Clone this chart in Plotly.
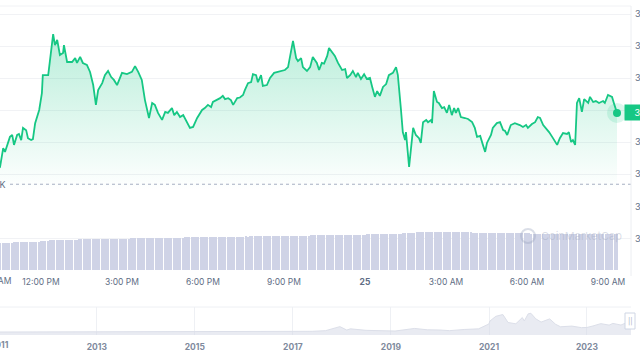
import plotly.graph_objects as go
import pandas as pd

# ---------------- data ----------------
open_price = 37368  # 24h-ago reference price (dotted line)

pre_times = ["09:20", "09:35", "09:50", "10:05", "10:18"]
pre_prices = [37368, 37385, 37402, 37445, 37410]

times_24 = ["10:29","10:36","10:40","10:44","10:51","10:56","11:00","11:07","11:11","11:16",
            "11:20","11:27","11:31","11:38","11:42","11:47","11:56","12:02","12:04","12:16",
            "12:27","12:31","12:36","12:42","12:49","12:51","12:58","13:09","13:16","13:20",
            "13:27","13:33","13:42","13:49","13:56","14:02","14:07","14:16","14:22","14:29",
            "14:36","14:42","14:49","15:00","15:11","15:22","15:29","15:36","15:44","15:51",
            "16:00","16:07","16:13","16:20","16:29","16:36","16:42","16:51","16:56","17:02",
            "17:09","17:16","17:24","17:31","17:38","17:47","17:58","18:04","18:11","18:18",
            "18:22","18:31","18:38","18:44","18:49","18:56","19:02","19:07","19:16","19:22",
            "19:29","19:33","19:40","19:47","19:51","19:58","20:02","20:09","20:13","20:22",
            "20:29","20:38","20:47","20:56","21:02","21:09","21:13","21:20","21:27","21:31",
            "21:38","21:42","21:51","21:58","22:04","22:13","22:18","22:24","22:29","22:36",
            "22:40","22:47","22:53","23:00","23:09","23:16","23:20","23:27","23:33","23:40",
            "23:44","23:51","23:58"]
prices_24 = [37422,37481,37469,37484,37516,37522,37491,37522,37525,37506,
             37544,37537,37512,37506,37509,37559,37600,37653,37709,37709,
             37837,37803,37819,37772,37778,37803,37750,37750,37762,37747,
             37766,37747,37741,37719,37678,37616,37662,37684,37709,37722,
             37703,37694,37678,37716,37712,37719,37737,37719,37694,37631,
             37575,37622,37616,37591,37569,37594,37591,37606,37584,37594,
             37578,37584,37562,37544,37547,37575,37600,37606,37616,37609,
             37625,37631,37637,37644,37634,37637,37631,37616,37637,37639,
             37647,37662,37684,37687,37712,37709,37687,37709,37675,37678,
             37700,37716,37719,37722,37725,37734,37762,37816,37762,37753,
             37762,37734,37722,37734,37766,37747,37725,37747,37745,37769,
             37794,37781,37769,37747,37725,37728,37700,37709,37722,37703,
             37716,37697,37712]

times_25 = ["00:04","00:11","00:16","00:22","00:27","00:33","00:40","00:47","00:53","01:02",
            "01:09","01:13","01:20","01:24","01:29","01:31","01:38","01:42","01:47","01:53",
            "02:00","02:04","02:09","02:16","02:20","02:27","02:29","02:33","02:40","02:44",
            "02:51","02:56","03:02","03:07","03:13","03:18","03:22","03:27","03:33","03:42",
            "03:49","03:58","04:04","04:09","04:16","04:22","04:27","04:31","04:40","04:44",
            "04:53","05:00","05:07","05:11","05:16","05:24","05:33","05:44","05:51","05:58",
            "06:02","06:11","06:18","06:24","06:29","06:36","06:44","06:49","06:56","07:02",
            "07:07","07:13","07:20","07:29","07:33","07:38","07:42","07:47","07:51","07:56",
            "08:02","08:07","08:16","08:20","08:27","08:33","08:40","08:49","08:53","09:00",
            "09:09","09:13","09:20"]
prices_25 = [37697,37700,37672,37641,37659,37644,37672,37681,37709,37716,
             37734,37709,37600,37531,37506,37531,37422,37469,37544,37522,
             37512,37497,37562,37569,37562,37569,37559,37659,37625,37622,
             37606,37609,37591,37616,37584,37606,37591,37606,37578,37575,
             37572,37562,37544,37516,37519,37491,37469,37497,37522,37544,
             37559,37562,37537,37535,37522,37553,37559,37553,37547,37553,
             37544,37556,37562,37578,37575,37553,37541,37531,37516,37500,
             37491,37512,37528,37525,37531,37500,37506,37491,37622,37637,
             37594,37634,37622,37641,37625,37628,37622,37628,37622,37647,
             37641,37622,37591]

# rolling 24h volume (billions USD), one bar per 5 minutes from 09:20 Nov 24
volume = [
    29.0,29.0,29.0,29.0,29.0,29.0,29.0,29.0,29.0,29.0,29.0,29.0,
    29.1,29.1,29.15,29.15,29.1,29.15,29.15,29.2,29.28,29.28,29.25,29.28,
    29.28,29.3,29.28,29.3,29.28,29.3,29.3,29.32,29.45,29.5,29.5,29.55,
    29.7,29.7,29.72,29.7,29.7,29.72,29.75,29.72,29.75,29.78,29.8,29.8,
    29.8,29.82,29.9,29.9,29.9,29.88,29.9,29.92,29.9,29.9,29.92,29.9,
    29.9,29.92,29.9,29.95,29.92,29.95,29.95,29.98,29.95,30.0,29.98,30.0,
    30.02,30.04,30.04,30.05,30.04,30.04,30.06,30.04,30.05,30.04,30.06,30.05,
    30.05,30.06,30.05,30.08,30.08,30.1,30.1,30.1,30.12,30.1,30.12,30.15,
    30.2,30.22,30.23,30.23,30.22,30.24,30.23,30.25,30.24,30.25,30.26,30.25,
    30.26,30.28,30.3,30.3,30.3,30.32,30.3,30.33,30.32,30.33,30.35,30.35,
    30.36,30.38,30.38,30.4,30.38,30.4,30.4,30.42,30.42,30.44,30.45,30.45,
    30.46,30.48,30.48,30.48,30.5,30.48,30.5,30.5,30.52,30.52,30.52,30.53,
    30.53,30.54,30.53,30.55,30.55,30.56,30.55,30.57,30.58,30.58,30.6,30.6,
    30.62,30.62,30.63,30.64,30.65,30.65,30.66,30.68,30.72,30.72,30.72,30.73,
    30.72,30.73,30.72,30.74,30.73,30.74,30.75,30.74,30.76,30.78,30.8,30.8,
    30.8,30.82,30.82,30.84,30.86,30.86,30.86,30.88,30.88,30.9,30.9,30.92,
    30.95,30.98,31.0,31.05,31.08,31.1,31.12,31.15,31.25,31.3,31.3,31.32,
    31.3,31.32,31.3,31.33,31.32,31.3,31.32,31.3,31.32,31.3,31.3,31.32,
    31.3,31.32,31.3,31.3,31.32,31.3,31.28,31.15,31.1,31.12,31.1,31.1,
    31.1,31.12,31.1,31.1,31.0,31.0,30.98,31.0,30.99,31.0,30.98,31.0,
    30.99,31.0,30.98,30.99,31.0,30.98,30.99,30.97,30.98,30.96,30.95,30.95,
    30.88,30.86,30.86,30.87,30.86,30.85,30.86,30.86,30.85,30.86,30.84,30.86,
    30.86,30.85,30.86,30.86,30.84,30.86,30.85,30.86,30.86,30.85,30.86,30.86,
    30.86,30.85,30.86,30.86,30.86,30.85,30.86,30.86,30.84,30.85,30.86,30.86,
    30.86]
volume_start = "2023-11-24 09:20"

# navigator: long-term price history
nav_dates = ["2011-01-10","2011-06-08","2011-11-20","2012-06-01","2013-01-01","2013-04-10",
             "2013-07-01","2013-11-30","2014-03-01","2014-07-01","2015-01-15","2015-07-01",
             "2016-01-01","2016-07-01","2017-01-01","2017-05-25","2017-09-01","2017-12-17",
             "2018-02-06","2018-03-05","2018-06-30","2018-12-15","2019-02-01","2019-06-26",
             "2019-09-30","2020-01-01","2020-03-13","2020-06-30","2020-10-15","2020-12-31",
             "2021-01-08","2021-02-21","2021-04-14","2021-05-23","2021-07-20","2021-09-06",
             "2021-09-21","2021-10-20","2021-11-09","2021-12-15","2022-01-24","2022-03-29",
             "2022-05-12","2022-06-18","2022-09-10","2022-11-21","2023-01-01","2023-02-15",
             "2023-04-14","2023-06-15","2023-07-13","2023-09-11","2023-10-25","2023-11-25"]
nav_prices = [0.3,30,2.5,6,13,200,90,1150,600,630,200,260,430,670,1000,2500,4800,19500,
              7000,11500,6000,3200,3500,12900,8000,7200,4900,9100,11500,29000,40000,57000,
              63500,34500,29800,52500,40000,66000,68000,48000,36000,47500,28000,19000,21500,
              15800,16500,22000,30400,25000,31300,25200,34500,37700]

time_ticks = ["2023-11-24 12:00","2023-11-24 15:00","2023-11-24 18:00","2023-11-24 21:00",
              "2023-11-25 00:00","2023-11-25 03:00","2023-11-25 06:00","2023-11-25 09:00"]
time_tick_text = ["12:00 PM","3:00 PM","6:00 PM","9:00 PM","<b>25</b>","3:00 AM","6:00 AM","9:00 AM"]
price_ticks = [37400,37500,37600,37700,37800,37900]
volume_ticks = [30,36]
year_ticks = ["2013-01-01","2015-01-01","2017-01-01","2019-01-01","2021-01-01","2023-01-01"]

# ---------------- build ----------------
W, H = 640, 360
PLOT_W = 631
GREEN = "#16c784"
GRAY = "#616e85"
GRID = "#f1f2f5"
FONT = "Inter"
FS = 8.5

def py(px):  # pixel from top -> paper y
    return 1 - px / H

def pxx(px):
    return px / PLOT_W

t_all = ["2023-11-24 " + t for t in pre_times + times_24] + ["2023-11-25 " + t for t in times_25]
p_all = pre_prices + prices_24 + prices_25
vol_x = pd.date_range(volume_start, periods=len(volume), freq="5min")

fig = go.Figure()

fig.add_trace(go.Scatter(
    x=t_all, y=p_all, mode="lines", line=dict(color=GREEN, width=1.8),
    fill="tozeroy",
    fillgradient=dict(type="vertical", start=37350, stop=37837,
                      colorscale=[[0, "rgba(22,199,132,0.0)"], [1, "rgba(22,199,132,0.30)"]]),
    xaxis="x", yaxis="y", hoverinfo="skip", showlegend=False))

fig.add_trace(go.Scatter(
    x=[t_all[-1]], y=[p_all[-1]], mode="markers",
    marker=dict(size=20, color="rgba(22,199,132,0.15)"),
    xaxis="x", yaxis="y", showlegend=False, hoverinfo="skip"))
fig.add_trace(go.Scatter(
    x=[t_all[-1]], y=[p_all[-1]], mode="markers",
    marker=dict(size=8, color=GREEN),
    xaxis="x", yaxis="y", showlegend=False, hoverinfo="skip"))

fig.add_trace(go.Bar(
    x=vol_x, y=volume, marker=dict(color="#cfd3e6", line=dict(width=0)),
    width=190000, xaxis="x2", yaxis="y2", showlegend=False, hoverinfo="skip"))

nav_base = -10900
fig.add_trace(go.Scatter(
    x=[nav_dates[0], nav_dates[-1]], y=[nav_base, nav_base], mode="lines",
    line=dict(width=0), xaxis="x3", yaxis="y3", showlegend=False, hoverinfo="skip"))
fig.add_trace(go.Scatter(
    x=nav_dates, y=nav_prices, mode="lines", fill="tonexty",
    fillcolor="rgba(215,219,232,0.55)", line=dict(color="#dcdfe9", width=1),
    xaxis="x3", yaxis="y3", showlegend=False, hoverinfo="skip"))

x_range = ["2023-11-24 10:28:53", "2023-11-25 09:51:07"]
tick_font = dict(family=FONT, size=FS, color=GRAY)
ytick_font = dict(family=FONT, size=9, color=GRAY)

fig.update_layout(
    width=W, height=H, template="none",
    margin=dict(l=0, r=W - PLOT_W, t=0, b=0),
    paper_bgcolor="white", plot_bgcolor="white",
    bargap=0, showlegend=False,
    xaxis=dict(domain=[0, 1], range=x_range, type="date", anchor="y",
               showgrid=False, showticklabels=False, ticks="", zeroline=False,
               showline=False, automargin=False),
    yaxis=dict(domain=[py(190), py(6)], range=[37350, 37925], side="right", anchor="x",
               tickvals=price_ticks, tickformat=",.0f", showgrid=True, gridcolor=GRID,
               gridwidth=1, zeroline=False, ticks="", showline=False,
               tickfont=ytick_font, automargin=False, ticklabelstandoff=3),
    xaxis2=dict(domain=[0, 1], range=x_range, type="date", anchor="y2", matches="x",
                tickvals=time_ticks, ticktext=time_tick_text, showgrid=False,
                ticks="", zeroline=False, showline=False, tickfont=tick_font,
                automargin=False, ticklabelstandoff=5),
    yaxis2=dict(domain=[py(270), py(207)], range=[24, 36], side="right", anchor="x2",
                tickvals=volume_ticks, ticksuffix="B", showgrid=True, gridcolor=GRID,
                zeroline=False, ticks="", showline=False, tickfont=ytick_font,
                automargin=False, ticklabelstandoff=3),
    xaxis3=dict(domain=[0, 1], range=["2011-01-10", "2023-11-25"], type="date", anchor="y3",
                tickvals=year_ticks, tickformat="%Y", showgrid=True, gridcolor="#eef0f4",
                ticks="", zeroline=False, showline=False,
                tickfont=dict(family=FONT, size=FS, color="#808a9d", weight="bold"),
                automargin=False, ticklabelstandoff=5),
    yaxis3=dict(domain=[py(335), py(307)], range=[nav_base, 90800], showgrid=False,
                showticklabels=False, zeroline=False, ticks="", automargin=False,
                fixedrange=True),
)

shapes = [
    # dotted opening price line
    dict(type="line", xref="paper", yref="y", x0=pxx(10), x1=1, y0=open_price, y1=open_price,
         line=dict(color="#a6b0c3", width=1, dash="dot")),
    # pane top border
    dict(type="line", xref="paper", yref="paper", x0=0, x1=1, y0=py(6), y1=py(6),
         line=dict(color=GRID, width=1)),
    # right border
    dict(type="line", xref="paper", yref="paper", x0=1, x1=1, y0=py(276), y1=py(6),
         line=dict(color="#eceef2", width=1)),
    # navigator top border
    dict(type="line", xref="paper", yref="paper", x0=0, x1=1, y0=py(307), y1=py(307),
         line=dict(color="#eef0f4", width=1)),
    # navigator handle
    dict(type="rect", xref="paper", yref="paper", x0=pxx(625), x1=pxx(635), y0=py(329), y1=py(313),
         fillcolor="white", line=dict(color="#cfd6e4", width=1)),
    # watermark logo circle
    dict(type="circle", xref="paper", yref="paper", x0=pxx(521), x1=pxx(535), y0=py(243), y1=py(229),
         line=dict(color="rgba(150,160,185,0.35)", width=2)),
]
fig.update_layout(shapes=shapes)

annotations = [
    dict(text="37.37K", xref="paper", yref="y", x=pxx(8), y=open_price, xanchor="right",
         yanchor="middle", showarrow=False, font=dict(family=FONT, size=9, color=GRAY)),
    dict(text="9:00 AM", xref="paper", yref="paper", x=pxx(13), y=py(281), xanchor="right",
         yanchor="middle", showarrow=False, font=tick_font),
    dict(text="<b>2011</b>", xref="paper", yref="paper", x=pxx(-1), y=py(345), xanchor="center",
         yanchor="middle", showarrow=False, font=dict(family=FONT, size=FS, color="#808a9d")),
    dict(text="&nbsp;&nbsp;&nbsp;" + f"{p_all[-1]:,.2f}", xref="paper", yref="y", x=pxx(624),
         y=p_all[-1], xanchor="left", yanchor="middle", showarrow=False, bgcolor=GREEN,
         font=dict(family=FONT, size=9, color="white"), borderpad=2),
    dict(text="CoinMarketCap", xref="paper", yref="paper", x=pxx(539), y=py(236),
         xanchor="left", yanchor="middle", showarrow=False,
         font=dict(family=FONT, size=11, color="rgba(150,160,185,0.35)")),
    dict(text="||", xref="paper", yref="paper", x=pxx(630), y=py(321), xanchor="center",
         yanchor="middle", showarrow=False, font=dict(family=FONT, size=7, color="#a6b0c3")),
]
fig.update_layout(annotations=annotations)

fig.write_html("out.html")
